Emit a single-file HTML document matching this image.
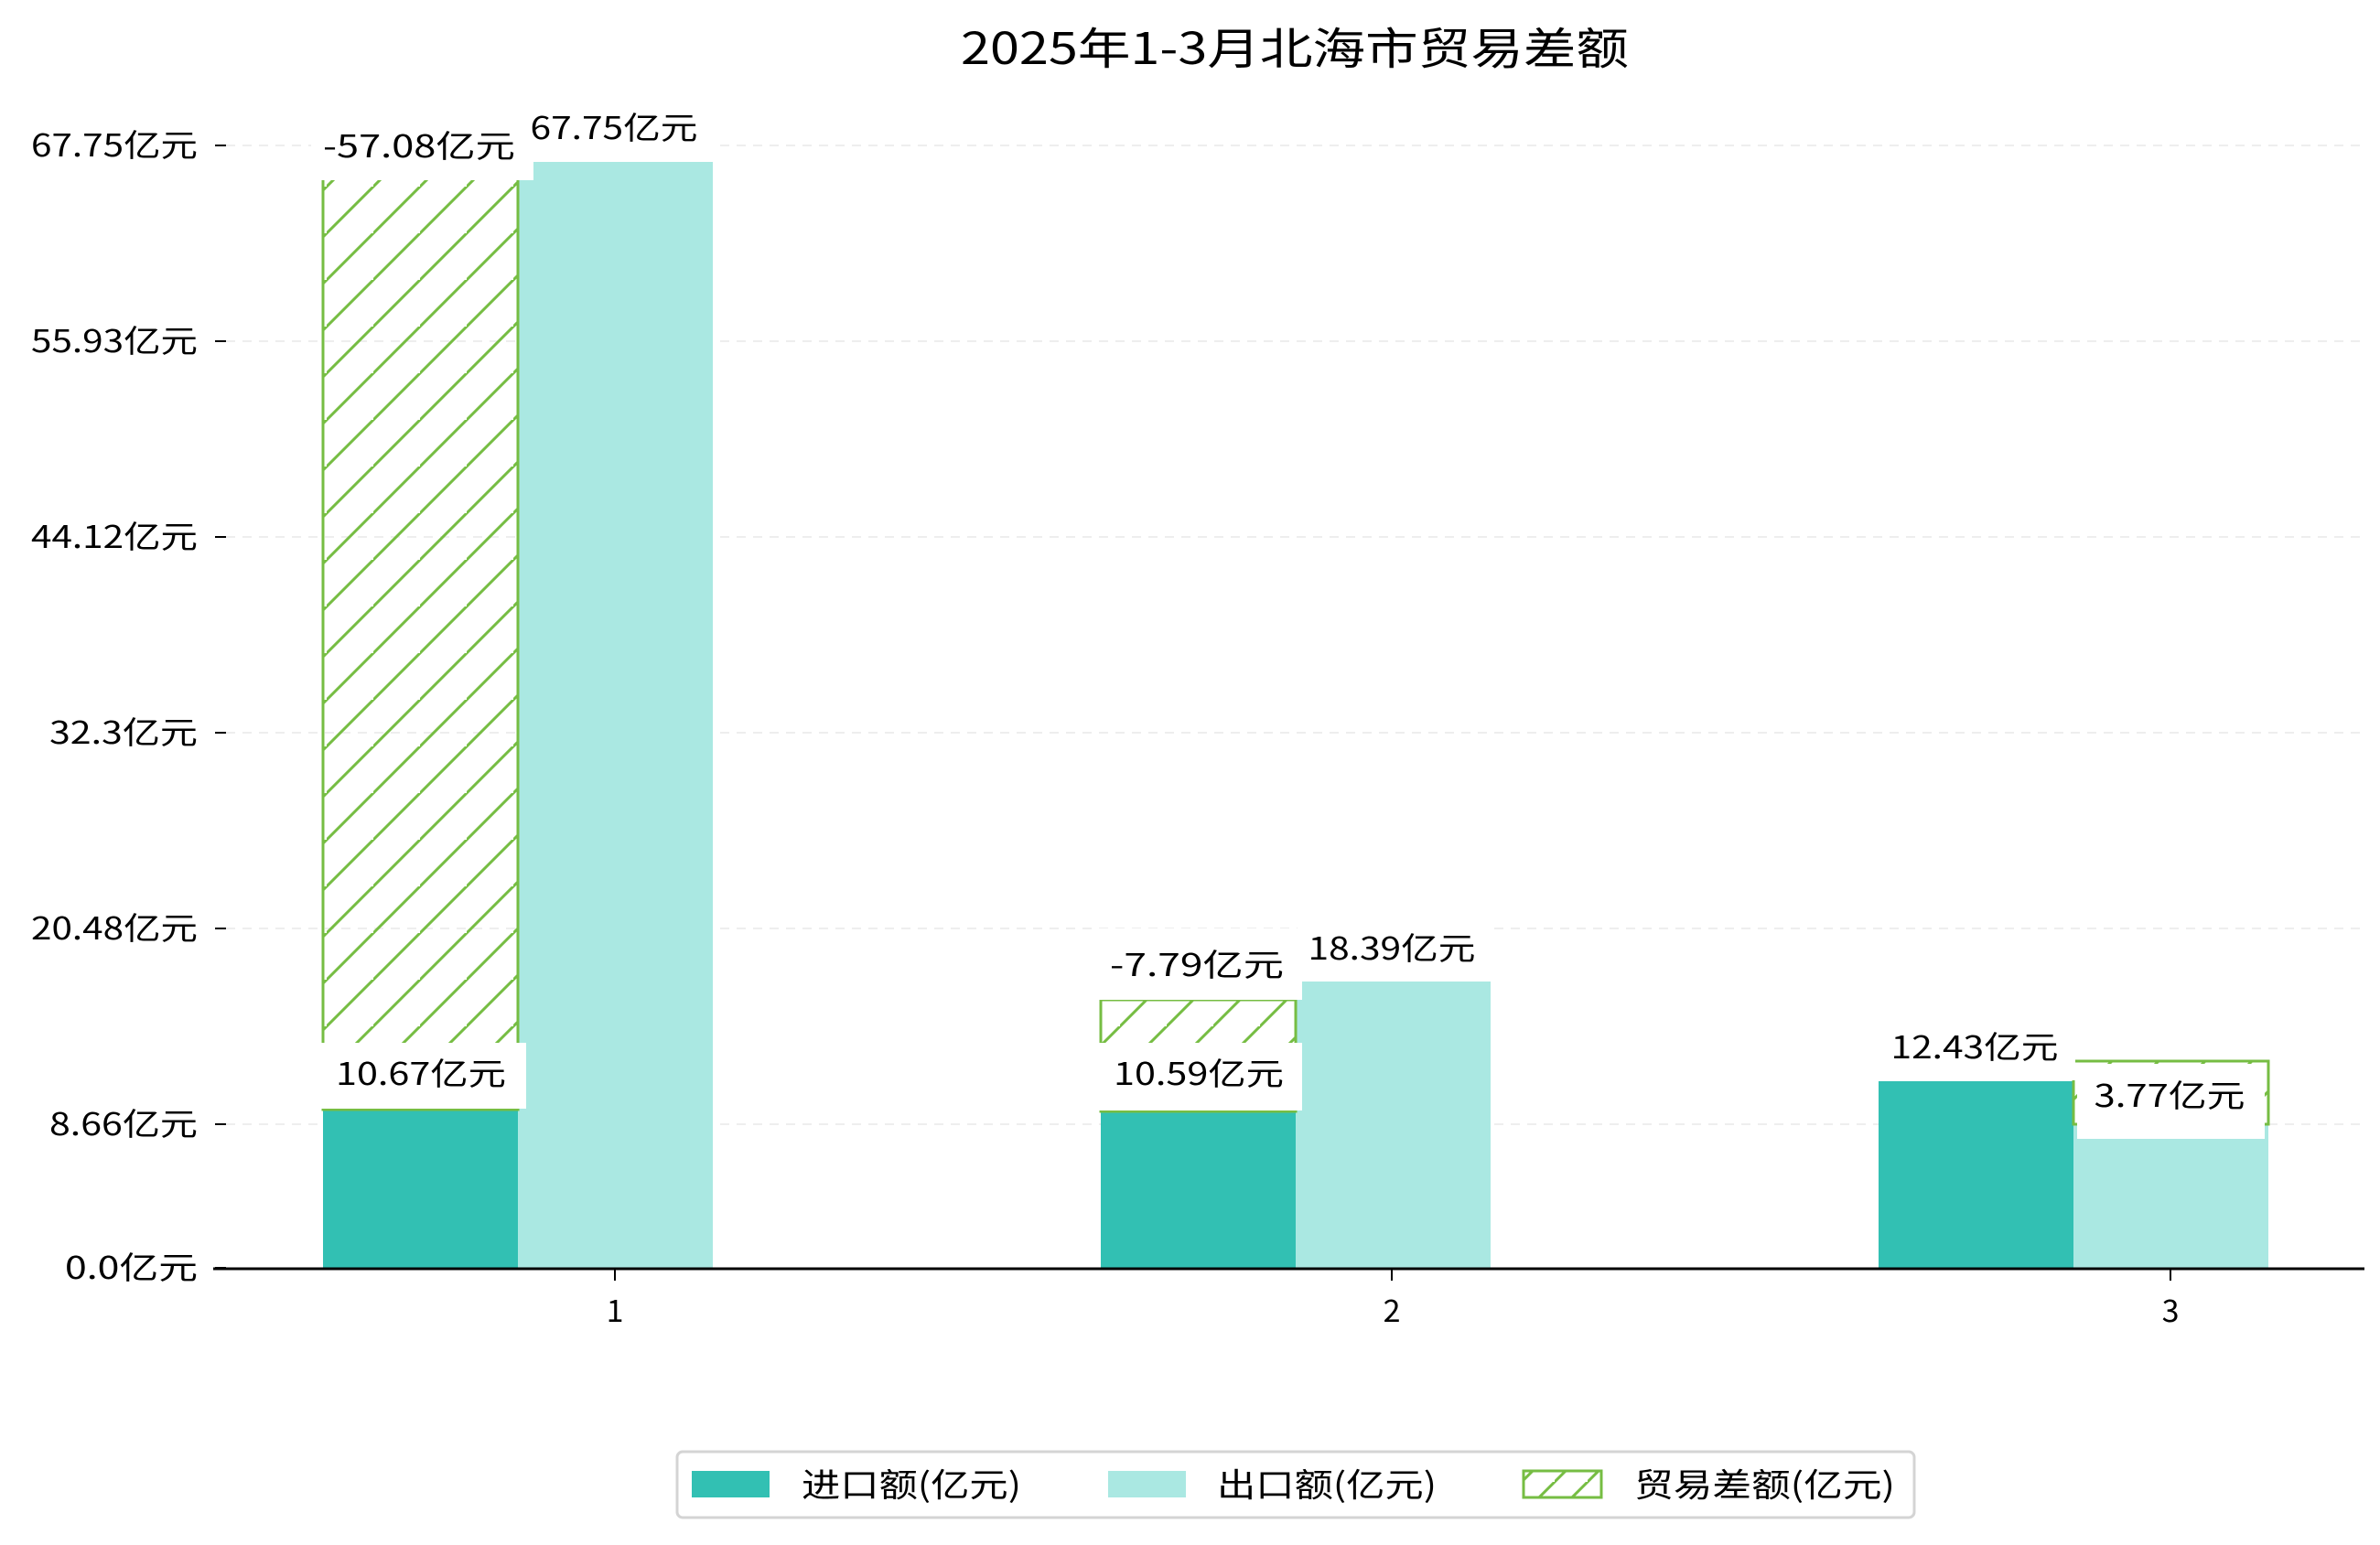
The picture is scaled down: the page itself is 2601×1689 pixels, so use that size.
<!DOCTYPE html>
<html><head><meta charset="utf-8"><style>
html,body{margin:0;padding:0;background:#fff;}
svg{display:block;}
text{font-family:"WenQuanYi Zen Hei","Noto Sans CJK SC",sans-serif;fill:#000;}
</style></head><body>
<svg width="2601" height="1689" viewBox="0 0 2601 1689" xmlns="http://www.w3.org/2000/svg">
<defs>
<pattern id="h" patternUnits="userSpaceOnUse" width="51" height="51">
<path d="M-5,56 L56,-5 M-56,56 L5,-5 M46,107 L107,46" stroke="#76bd43" stroke-width="3"/>
</pattern>
<pattern id="hl" patternUnits="userSpaceOnUse" width="36" height="36" x="1663">
<path d="M-5,41 L41,-5 M-41,41 L5,-5 M31,77 L77,31" stroke="#76bd43" stroke-width="3"/>
</pattern>
</defs>
<text x="1415" y="70" font-size="48" text-anchor="middle" textLength="730" lengthAdjust="spacingAndGlyphs">2025年1-3月北海市贸易差额</text>
<g stroke="#eeeeee" stroke-width="2" stroke-dasharray="10,8">
<line x1="247" y1="159" x2="2584" y2="159"/>
<line x1="247" y1="373" x2="2584" y2="373"/>
<line x1="247" y1="587" x2="2584" y2="587"/>
<line x1="247" y1="801" x2="2584" y2="801"/>
<line x1="247" y1="1015" x2="2584" y2="1015"/>
<line x1="247" y1="1229" x2="2584" y2="1229"/>
</g>
<g stroke="#000" stroke-width="2">
<line x1="235" y1="159" x2="247" y2="159"/>
<line x1="235" y1="373" x2="247" y2="373"/>
<line x1="235" y1="587" x2="247" y2="587"/>
<line x1="235" y1="801" x2="247" y2="801"/>
<line x1="235" y1="1015" x2="247" y2="1015"/>
<line x1="235" y1="1229" x2="247" y2="1229"/>
<line x1="235" y1="1386" x2="247" y2="1386"/>
</g>
<g font-size="34" text-anchor="end">
<text x="216" y="171" textLength="182" lengthAdjust="spacingAndGlyphs">67.75亿元</text>
<text x="216" y="385" textLength="182" lengthAdjust="spacingAndGlyphs">55.93亿元</text>
<text x="216" y="599" textLength="182" lengthAdjust="spacingAndGlyphs">44.12亿元</text>
<text x="216" y="813" textLength="162" lengthAdjust="spacingAndGlyphs">32.3亿元</text>
<text x="216" y="1027" textLength="182" lengthAdjust="spacingAndGlyphs">20.48亿元</text>
<text x="216" y="1241" textLength="162" lengthAdjust="spacingAndGlyphs">8.66亿元</text>
<text x="216" y="1398" textLength="145" lengthAdjust="spacingAndGlyphs">0.0亿元</text>
</g>
<!-- bars -->
<rect x="353" y="1213" width="213" height="173" fill="#32c0b3"/>
<rect x="566" y="177" width="213" height="1209" fill="#aae8e2"/>
<rect x="353" y="160" width="213" height="1053" fill="url(#h)" stroke="#76bd43" stroke-width="3"/>
<rect x="1203" y="1215" width="213" height="171" fill="#32c0b3"/>
<rect x="1416" y="1073" width="213" height="313" fill="#aae8e2"/>
<rect x="1203" y="1093" width="213" height="122" fill="url(#h)" stroke="#76bd43" stroke-width="3"/>
<rect x="2053" y="1182" width="213" height="204" fill="#32c0b3"/>
<rect x="2266" y="1229" width="213" height="157" fill="#aae8e2"/>
<rect x="2266" y="1160" width="213" height="69" fill="url(#h)" stroke="#76bd43" stroke-width="3"/>
<!-- label boxes -->
<g fill="#fff">
<rect x="340" y="120" width="243" height="77"/>
<rect x="572" y="100" width="210" height="77"/>
<rect x="342" y="1140" width="233" height="72"/>
<rect x="1195" y="1015" width="228" height="78"/>
<rect x="1418" y="1000" width="212" height="73"/>
<rect x="1195" y="1140" width="228" height="74"/>
<rect x="2053" y="1110" width="215" height="71"/>
<rect x="2270" y="1163" width="205" height="82"/>
</g>
<g font-size="34" text-anchor="middle">
<text x="458" y="172" textLength="210" lengthAdjust="spacingAndGlyphs">-57.08亿元</text>
<text x="671" y="152" textLength="183" lengthAdjust="spacingAndGlyphs">67.75亿元</text>
<text x="460" y="1186" textLength="186" lengthAdjust="spacingAndGlyphs">10.67亿元</text>
<text x="1308" y="1067" textLength="190" lengthAdjust="spacingAndGlyphs">-7.79亿元</text>
<text x="1521" y="1049" textLength="183" lengthAdjust="spacingAndGlyphs">18.39亿元</text>
<text x="1310" y="1186" textLength="186" lengthAdjust="spacingAndGlyphs">10.59亿元</text>
<text x="2158" y="1157" textLength="183" lengthAdjust="spacingAndGlyphs">12.43亿元</text>
<text x="2371" y="1210" textLength="165" lengthAdjust="spacingAndGlyphs">3.77亿元</text>
</g>
<line x1="233" y1="1387" x2="2584" y2="1387" stroke="#000" stroke-width="3"/>
<g stroke="#000" stroke-width="2">
<line x1="672" y1="1387" x2="672" y2="1400"/>
<line x1="1521" y1="1387" x2="1521" y2="1400"/>
<line x1="2372" y1="1387" x2="2372" y2="1400"/>
</g>
<g font-size="34" text-anchor="middle">
<text x="672" y="1445">1</text>
<text x="1521" y="1445">2</text>
<text x="2372" y="1445">3</text>
</g>
<rect x="740" y="1587" width="1352" height="72" rx="6" fill="#fff" stroke="#d4d4d4" stroke-width="3"/>
<rect x="756" y="1608" width="85" height="29" fill="#32c0b3"/>
<rect x="1211" y="1608" width="85" height="29" fill="#aae8e2"/>
<rect x="1665" y="1608" width="85" height="29" fill="url(#hl)" stroke="#76bd43" stroke-width="3"/>
<g font-size="36">
<text x="876" y="1636" textLength="240" lengthAdjust="spacingAndGlyphs">进口额(亿元)</text>
<text x="1330" y="1636" textLength="240" lengthAdjust="spacingAndGlyphs">出口额(亿元)</text>
<text x="1786" y="1636" textLength="285" lengthAdjust="spacingAndGlyphs">贸易差额(亿元)</text>
</g>
</svg>
</body></html>
